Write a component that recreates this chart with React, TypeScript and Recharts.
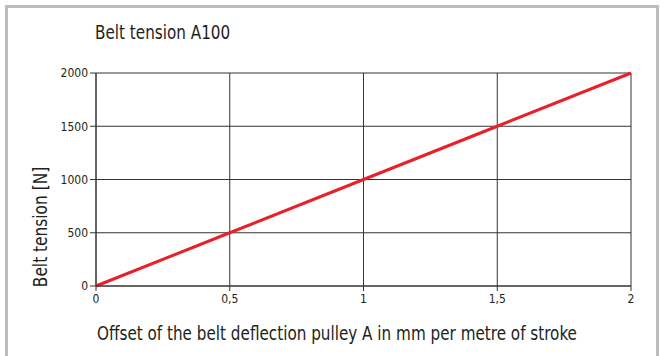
import React from "react";
import { LineChart, Line, XAxis, YAxis, CartesianGrid } from "recharts";

const offsetValues = [0, 0.5, 1, 1.5, 2];
const tensionValues = [0, 500, 1000, 1500, 2000];
const xTicks = [0, 0.5, 1, 1.5, 2];
const xTickLabels = ["0", "0,5", "1", "1,5", "2"];
const yTicks = [0, 500, 1000, 1500, 2000];

const data = offsetValues.map((x, i) => ({ x, y: tensionValues[i] }));

const FONT = "'DejaVu Sans Condensed', 'Liberation Sans', sans-serif";

export default function App() {
  return (
    <div style={{ position: "absolute", left: 0, top: 0, width: 662, height: 356, background: "#fff", overflow: "hidden", fontFamily: FONT }}>
      <div style={{ position: "absolute", left: 5, top: 5, width: 648, height: 360, border: "3px solid #bcbcbc", borderBottom: "none", boxSizing: "content-box" }} />
      <div style={{ position: "absolute", left: 95, top: 21, fontSize: 19, color: "#231f20", whiteSpace: "nowrap", transform: "scaleX(0.89)", transformOrigin: "left center" }}>Belt tension A100</div>
      <div style={{ position: "absolute", left: 0, top: 0 }}>
        <LineChart width={662} height={356} data={data} margin={{ top: 73, right: 31, bottom: 40, left: 56 }}>
          <CartesianGrid stroke="#333" strokeWidth={1} horizontalValues={yTicks} verticalValues={xTicks} />
          <XAxis
            dataKey="x"
            type="number"
            domain={[0, 2]}
            ticks={xTicks}
            tickFormatter={(v: number) => xTickLabels[xTicks.indexOf(v)]}
            height={30}
            tickSize={5}
            tickMargin={3}
            stroke="#333"
            tick={{ fill: "#231f20", fontSize: 12, fontFamily: FONT }}
            interval={0}
          />
          <YAxis
            type="number"
            domain={[0, 2000]}
            ticks={yTicks}
            width={40}
            tickSize={6}
            tickMargin={2}
            stroke="#333"
            tick={{ fill: "#231f20", fontSize: 12, fontFamily: FONT }}
            interval={0}
          />
          <Line dataKey="y" stroke="#e8202a" strokeWidth={3} dot={false} isAnimationActive={false} />
        </LineChart>
      </div>
      <div style={{ position: "absolute", left: 40, top: 227, width: 0, height: 0 }}>
        <div style={{ position: "absolute", transform: "translate(-50%, -50%) rotate(-90deg) scaleX(0.9)", fontSize: 19, color: "#231f20", whiteSpace: "nowrap" }}>Belt tension [N]</div>
      </div>
      <div style={{ position: "absolute", left: 97, top: 322, fontSize: 19, color: "#231f20", whiteSpace: "nowrap", transform: "scaleX(0.89)", transformOrigin: "left center" }}>Offset of the belt deflection pulley A in mm per metre of stroke</div>
    </div>
  );
}
